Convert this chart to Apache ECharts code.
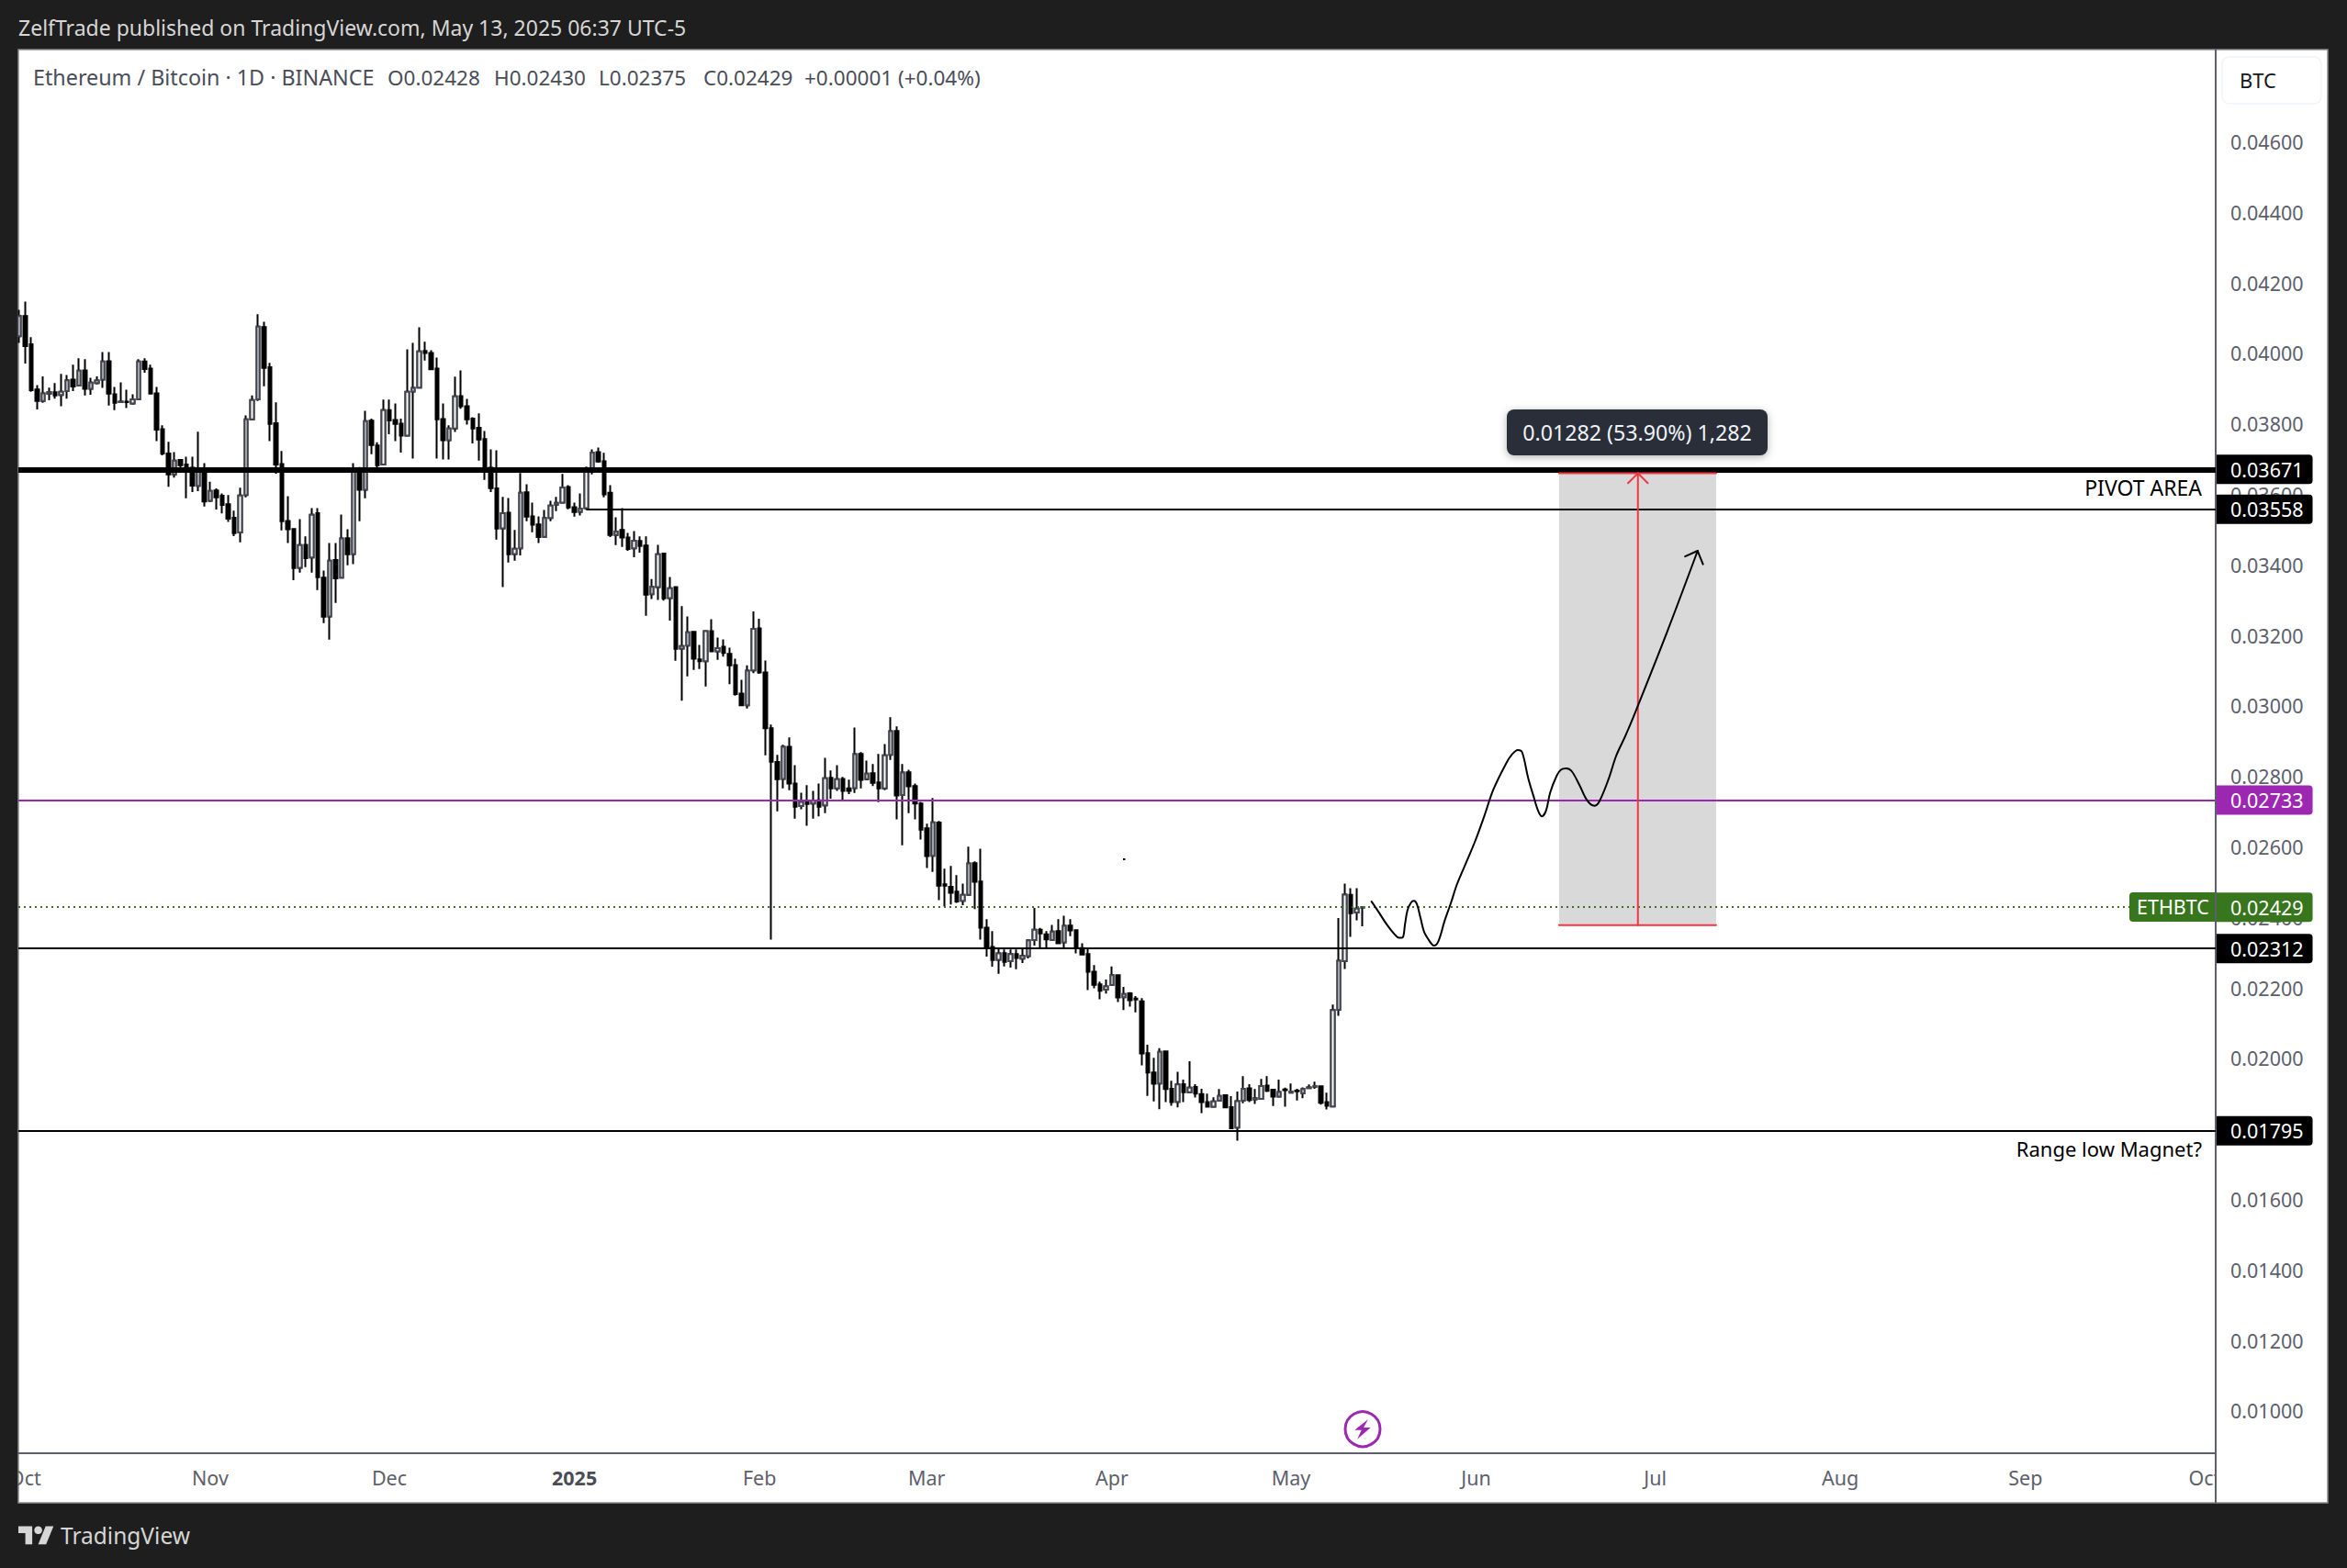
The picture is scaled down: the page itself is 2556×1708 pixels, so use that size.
<!DOCTYPE html>
<html><head><meta charset="utf-8"><style>html,body{margin:0;padding:0;background:#1e1e1e}#c{width:2556px;height:1708px}</style>
<script src="https://cdn.jsdelivr.net/npm/echarts@6/dist/echarts.min.js"></script></head><body><div id="c"></div><script>
const opens=[0.04049,0.04106,0.04026,0.03898,0.03865,0.03886,0.03890,0.03882,0.03893,0.03926,0.03909,0.03952,0.03900,0.03916,0.03926,0.03978,0.03884,0.03862,0.03863,0.03858,0.03870,0.03977,0.03957,0.03887,0.03785,0.03716,0.03657,0.03698,0.03685,0.03676,0.03624,0.03674,0.03582,0.03611,0.03596,0.03572,0.03534,0.03492,0.03598,0.03813,0.03870,0.04075,0.03961,0.03802,0.03686,0.03525,0.03502,0.03392,0.03457,0.03421,0.03547,0.03364,0.03254,0.03414,0.03364,0.03476,0.03431,0.03667,0.03613,0.03809,0.03739,0.03685,0.03839,0.03811,0.03801,0.03767,0.03892,0.03903,0.04007,0.04001,0.03957,0.03814,0.03754,0.03787,0.03879,0.03850,0.03815,0.03789,0.03757,0.03676,0.03617,0.03504,0.03548,0.03431,0.03447,0.03606,0.03538,0.03515,0.03480,0.03533,0.03571,0.03577,0.03621,0.03564,0.03551,0.03561,0.03674,0.03720,0.03694,0.03605,0.03485,0.03499,0.03478,0.03447,0.03468,0.03455,0.03317,0.03337,0.03432,0.03306,0.03337,0.03163,0.03171,0.03210,0.03132,0.03127,0.03212,0.03155,0.03168,0.03148,0.03116,0.03035,0.03002,0.03101,0.03220,0.03095,0.02937,0.02841,0.02793,0.02884,0.02780,0.02716,0.02728,0.02723,0.02732,0.02718,0.02796,0.02766,0.02793,0.02766,0.02767,0.02864,0.02792,0.02809,0.02783,0.02766,0.02861,0.02929,0.02747,0.02812,0.02773,0.02723,0.02653,0.02575,0.02669,0.02494,0.02487,0.02473,0.02447,0.02464,0.02554,0.02502,0.02371,0.02316,0.02280,0.02299,0.02276,0.02296,0.02283,0.02290,0.02336,0.02365,0.02352,0.02336,0.02361,0.02329,0.02377,0.02364,0.02313,0.02296,0.02246,0.02210,0.02195,0.02208,0.02236,0.02174,0.02185,0.02170,0.02162,0.02015,0.01960,0.01929,0.02020,0.01914,0.01877,0.01927,0.01904,0.01919,0.01899,0.01876,0.01863,0.01880,0.01896,0.01862,0.01804,0.01880,0.01915,0.01884,0.01885,0.01923,0.01911,0.01892,0.01912,0.01903,0.01909,0.01901,0.01916,0.01920,0.01921,0.01876,0.01864,0.02138,0.02276,0.02464,0.02414,0.02428];
const highs=[0.04124,0.04147,0.04046,0.03910,0.03935,0.03903,0.03916,0.03942,0.03939,0.03968,0.03986,0.03984,0.03931,0.03935,0.04004,0.04004,0.03905,0.03918,0.03897,0.03884,0.03984,0.03986,0.03968,0.03905,0.03796,0.03749,0.03720,0.03700,0.03707,0.03707,0.03778,0.03689,0.03636,0.03617,0.03603,0.03598,0.03554,0.03619,0.03824,0.03881,0.04111,0.04090,0.03973,0.03861,0.03723,0.03595,0.03504,0.03530,0.03481,0.03561,0.03561,0.03384,0.03462,0.03462,0.03543,0.03501,0.03689,0.03678,0.03837,0.03815,0.03748,0.03869,0.03869,0.03858,0.03815,0.04012,0.04030,0.04074,0.04033,0.04009,0.03988,0.03858,0.03796,0.03934,0.03952,0.03871,0.03819,0.03830,0.03780,0.03728,0.03725,0.03593,0.03590,0.03499,0.03661,0.03629,0.03577,0.03538,0.03556,0.03582,0.03593,0.03658,0.03626,0.03577,0.03603,0.03679,0.03728,0.03733,0.03718,0.03626,0.03535,0.03561,0.03491,0.03496,0.03481,0.03481,0.03360,0.03457,0.03434,0.03366,0.03340,0.03283,0.03254,0.03212,0.03173,0.03214,0.03246,0.03194,0.03189,0.03165,0.03134,0.03074,0.03115,0.03268,0.03247,0.03129,0.02947,0.02861,0.02890,0.02911,0.02832,0.02754,0.02775,0.02759,0.02780,0.02853,0.02817,0.02832,0.02799,0.02791,0.02939,0.02869,0.02845,0.02835,0.02864,0.02892,0.02968,0.02942,0.02835,0.02819,0.02780,0.02728,0.02666,0.02739,0.02674,0.02538,0.02546,0.02520,0.02496,0.02601,0.02559,0.02595,0.02395,0.02361,0.02312,0.02309,0.02309,0.02309,0.02310,0.02338,0.02427,0.02370,0.02361,0.02379,0.02395,0.02405,0.02395,0.02365,0.02327,0.02312,0.02265,0.02218,0.02224,0.02261,0.02237,0.02203,0.02188,0.02177,0.02171,0.02039,0.02002,0.02029,0.02020,0.01937,0.01962,0.01940,0.01992,0.01927,0.01914,0.01900,0.01890,0.01913,0.01898,0.01893,0.01906,0.01950,0.01927,0.01913,0.01942,0.01950,0.01914,0.01940,0.01917,0.01929,0.01914,0.01918,0.01926,0.01934,0.01923,0.01903,0.02153,0.02398,0.02496,0.02483,0.02483,0.02430];
const lows=[0.04030,0.03971,0.03891,0.03841,0.03860,0.03867,0.03872,0.03850,0.03872,0.03893,0.03907,0.03881,0.03883,0.03912,0.03902,0.03852,0.03839,0.03861,0.03845,0.03855,0.03869,0.03945,0.03886,0.03751,0.03711,0.03622,0.03648,0.03676,0.03589,0.03607,0.03609,0.03566,0.03579,0.03557,0.03546,0.03522,0.03482,0.03464,0.03592,0.03811,0.03865,0.03907,0.03751,0.03659,0.03498,0.03462,0.03357,0.03378,0.03394,0.03378,0.03329,0.03235,0.03188,0.03292,0.03362,0.03399,0.03402,0.03524,0.03589,0.03714,0.03664,0.03683,0.03771,0.03751,0.03719,0.03765,0.03702,0.03902,0.03980,0.03954,0.03702,0.03699,0.03699,0.03777,0.03843,0.03798,0.03745,0.03696,0.03641,0.03607,0.03472,0.03337,0.03407,0.03412,0.03427,0.03524,0.03493,0.03462,0.03478,0.03524,0.03553,0.03575,0.03558,0.03537,0.03540,0.03556,0.03657,0.03690,0.03592,0.03479,0.03456,0.03451,0.03440,0.03422,0.03435,0.03256,0.03303,0.03301,0.03299,0.03242,0.03128,0.03015,0.03084,0.03102,0.03105,0.03055,0.03153,0.03131,0.03140,0.03062,0.03029,0.03001,0.02993,0.03093,0.03091,0.02860,0.02337,0.02701,0.02766,0.02761,0.02680,0.02707,0.02660,0.02680,0.02687,0.02696,0.02737,0.02759,0.02734,0.02750,0.02753,0.02766,0.02789,0.02773,0.02727,0.02761,0.02847,0.02678,0.02605,0.02696,0.02678,0.02621,0.02540,0.02529,0.02449,0.02431,0.02437,0.02441,0.02435,0.02462,0.02424,0.02337,0.02289,0.02260,0.02240,0.02261,0.02258,0.02253,0.02271,0.02284,0.02320,0.02313,0.02313,0.02333,0.02324,0.02313,0.02347,0.02298,0.02295,0.02194,0.02199,0.02168,0.02184,0.02206,0.02160,0.02137,0.02147,0.02131,0.01980,0.01894,0.01878,0.01856,0.01876,0.01866,0.01861,0.01876,0.01902,0.01889,0.01845,0.01861,0.01861,0.01878,0.01861,0.01801,0.01767,0.01873,0.01876,0.01871,0.01883,0.01905,0.01865,0.01889,0.01863,0.01902,0.01881,0.01887,0.01913,0.01914,0.01869,0.01855,0.01862,0.02121,0.02254,0.02345,0.02392,0.02375];
const closes=[0.04106,0.04021,0.03896,0.03865,0.03887,0.03890,0.03881,0.03891,0.03924,0.03906,0.03951,0.03900,0.03917,0.03923,0.03977,0.03886,0.03860,0.03863,0.03862,0.03870,0.03977,0.03956,0.03886,0.03784,0.03716,0.03657,0.03696,0.03683,0.03673,0.03625,0.03673,0.03580,0.03610,0.03592,0.03570,0.03531,0.03490,0.03597,0.03813,0.03868,0.04076,0.03959,0.03800,0.03685,0.03524,0.03501,0.03391,0.03456,0.03419,0.03542,0.03365,0.03253,0.03412,0.03362,0.03475,0.03430,0.03667,0.03613,0.03808,0.03740,0.03683,0.03839,0.03810,0.03800,0.03767,0.03891,0.03902,0.04006,0.04001,0.03955,0.03813,0.03754,0.03787,0.03878,0.03850,0.03813,0.03787,0.03756,0.03674,0.03618,0.03503,0.03547,0.03430,0.03446,0.03605,0.03537,0.03514,0.03479,0.03533,0.03568,0.03576,0.03620,0.03563,0.03550,0.03560,0.03673,0.03719,0.03693,0.03600,0.03485,0.03495,0.03478,0.03445,0.03469,0.03454,0.03316,0.03338,0.03430,0.03305,0.03334,0.03162,0.03170,0.03209,0.03134,0.03127,0.03212,0.03155,0.03164,0.03150,0.03115,0.03034,0.03002,0.03100,0.03219,0.03095,0.02937,0.02842,0.02792,0.02884,0.02780,0.02714,0.02728,0.02722,0.02731,0.02714,0.02795,0.02766,0.02792,0.02759,0.02759,0.02863,0.02790,0.02808,0.02782,0.02766,0.02860,0.02928,0.02746,0.02811,0.02772,0.02723,0.02649,0.02574,0.02670,0.02490,0.02490,0.02470,0.02445,0.02464,0.02553,0.02501,0.02371,0.02314,0.02279,0.02298,0.02274,0.02296,0.02285,0.02291,0.02335,0.02365,0.02355,0.02338,0.02360,0.02327,0.02376,0.02363,0.02313,0.02295,0.02246,0.02209,0.02192,0.02204,0.02236,0.02173,0.02183,0.02165,0.02167,0.02014,0.01960,0.01928,0.02019,0.01913,0.01876,0.01926,0.01904,0.01917,0.01900,0.01876,0.01863,0.01878,0.01894,0.01861,0.01802,0.01879,0.01914,0.01882,0.01887,0.01922,0.01908,0.01892,0.01905,0.01910,0.01906,0.01907,0.01913,0.01918,0.01922,0.01874,0.01866,0.02137,0.02277,0.02465,0.02412,0.02425,0.02429];

const priceTicks=[0.010,0.012,0.014,0.016,0.020,0.022,0.024,0.026,0.028,0.030,0.032,0.034,0.036,0.038,0.040,0.042,0.044,0.046];
const monthTickDays=[1,32,62,93,124,152,183,213,244,274,305,336,366];
const monthTickLabels=['Oct','Nov','Dec','2025','Feb','Mar','Apr','May','Jun','Jul','Aug','Sep','Oct'];

const pivotHigh=0.03671, pivotLow=0.03558, purpleLevel=0.02733, lastClose=0.02429, supportLevel=0.02312, rangeLow=0.01795;
const pivotLowStartDay=95;
const rangeTop=0.03660, rangeBottom=0.02378, rangeStartDay=257.9, rangeEndDay=284.2, rangeMidDay=271.1;
const rangeHeadDays=[269.45,271.1,272.75], rangeHeadPrices=[0.03632,0.03660,0.03632];
const pathDays=[226.5,227.7,229.0,230.3,231.1,231.7,232.1,232.5,233.1,233.6,234.1,234.7,235.3,236.2,236.95,237.7,238.7,239.8,240.8,242.3,243.9,245.4,246.9,249.0,250.0,251.0,251.7,252.7,253.6,254.4,255.0,255.7,256.4,257.5,258.2,259.1,260.0,261.3,262.6,263.8,264.6,266.2,267.45,269.0,270.4,275.9,281.1];
const pathPrices=[0.02445,0.02415,0.02381,0.02353,0.02342,0.02343,0.02381,0.02420,0.02442,0.02447,0.02437,0.02398,0.02359,0.02333,0.02320,0.02333,0.02389,0.02442,0.02494,0.02554,0.02619,0.02689,0.02763,0.02836,0.02862,0.02875,0.02869,0.02797,0.02745,0.02702,0.02687,0.02702,0.02754,0.02802,0.02819,0.02823,0.02815,0.02776,0.02732,0.02717,0.02728,0.02793,0.02858,0.02915,0.02971,0.03206,0.03440];
const pathHeadDays=[279.0,281.1,282.0], pathHeadPrices=[0.03424,0.03440,0.03402];

const FONT='"Noto Sans", sans-serif';
const candleRows=opens.map((o,i)=>[i,o,closes[i],lows[i],highs[i]]);
const bullBodies=opens.map((o,i)=>[i,o,closes[i],o,closes[i]]).filter(r=>r[2]>=r[1]);
const zip=(xs,ys)=>xs.map((x,i)=>[x,ys[i]]);
const lineSeries=(data,color,width,extra)=>Object.assign({type:'line',data,symbol:'none',showSymbol:false,silent:true,animation:false,z:6,lineStyle:{color,width,cap:'round',join:'round'}},extra||{});
const tag=(bg,v)=>({show:true,position:'end',distance:1,color:'#fff',fontFamily:FONT,fontSize:21.5,lineHeight:22,padding:[5,10,5,15],backgroundColor:bg,borderRadius:[0,4,4,0],formatter:()=>v.toFixed(5)});
const level=(v,color,width,type,xStart)=>({
  type:'line',data:[],silent:true,animation:false,z:type==='dotted'?1:5,
  markLine:{silent:true,animation:false,symbol:'none',precision:5,
    lineStyle:{color,width,type:type==='dotted'?[2,4]:'solid',cap:'butt'},
    label:tag(color,v),
    data:[xStart==null?{yAxis:v}:[{xAxis:xStart,yAxis:v},{xAxis:367.86,yAxis:v}]]}
});
const txt=(text,x,y,fill,size,align,extra)=>Object.assign({type:'text',z:120,silent:true,style:{text,x,y,fill,font:(size)+'px '+FONT,textAlign:align||'left',textVerticalAlign:'middle'}},extra||{});

const chart=echarts.init(document.getElementById('c'),null,{renderer:'svg',width:2556,height:1708});
chart.setOption({
  animation:false,backgroundColor:'#1e1e1e',
  grid:{left:20,top:54,width:2393,height:1529,containLabel:false},
  xAxis:{type:'value',min:-0.123,max:367.86,splitLine:{show:false},axisTick:{show:false},
    axisLine:{onZero:false,lineStyle:{color:'#5d606b',width:2}},
    axisLabel:{customValues:monthTickDays,color:'#5d606b',fontFamily:FONT,fontSize:21.5,margin:15,showMinLabel:true,showMaxLabel:true,hideOverlap:false,
      formatter:v=>{const s=monthTickLabels[monthTickDays.indexOf(v)];return s==='2025'?'{b|2025}':s;},
      rich:{b:{fontWeight:'bold',color:'#4a4d57',fontFamily:FONT,fontSize:21.5}}}},
  yAxis:{type:'value',position:'right',min:0.0088,max:0.04862,splitLine:{show:false},axisTick:{show:false},
    axisLine:{show:true,onZero:false,lineStyle:{color:'#5d606b',width:2}},
    axisLabel:{customValues:priceTicks,color:'#5d606b',fontFamily:FONT,fontSize:21.5,margin:16,showMinLabel:true,showMaxLabel:true,hideOverlap:false,formatter:v=>v.toFixed(5)}},
  graphic:{elements:[
    {type:'rect',z:-10,silent:true,shape:{x:20,y:54,width:2515,height:1583},style:{fill:'#fff',stroke:'#8a8a8a',lineWidth:1.5}},
    {type:'rect',z:100,silent:true,shape:{x:0,y:1584,width:19,height:56},style:{fill:'#1e1e1e'}},
    {type:'rect',z:100,silent:true,shape:{x:2414,y:1585,width:120,height:51},style:{fill:'#fff'}},
    {type:'rect',z:100,silent:true,shape:{x:2412,y:1583,width:2,height:54},style:{fill:'#5d606b'}},
    txt('ZelfTrade published on TradingView.com, May 13, 2025 06:37 UTC-5',20,30,'#d6d6d6',23),
    txt('Ethereum / Bitcoin · 1D · BINANCE',36,84,'#4a4d57',23.3),
    txt('O0.02428',422,84,'#4a4d57',22.5),
    txt('H0.02430',538,84,'#4a4d57',22.5),
    txt('L0.02375',652,84,'#4a4d57',22.5),
    txt('C0.02429',766,84,'#4a4d57',22.5),
    txt('+0.00001 (+0.04%)',876,84,'#4a4d57',22.5),
    {type:'rect',z:110,silent:true,shape:{x:2420,y:62,width:108,height:51,r:8},style:{fill:'#fff',stroke:'#f0f3fa',lineWidth:1.5}},
    txt('BTC',2439,87,'#131722',22),
    txt('PIVOT AREA',2398,531,'#000',23,'right'),
    txt('Range low Magnet?',2398,1251,'#000',22,'right'),
    {type:'rect',z:110,silent:true,shape:{x:1641,y:446,width:284,height:50,r:8},style:{fill:'#2a2e39',shadowBlur:8,shadowColor:'rgba(0,0,0,0.3)',shadowOffsetY:2}},
    txt('0.01282 (53.90%) 1,282',1783,471,'#f0f3fa',23.2,'center'),
    {type:'rect',z:110,silent:true,shape:{x:2319,y:972,width:93,height:32,r:[4,0,0,4]},style:{fill:'#38761d'}},
    txt('ETHBTC',2327,987,'#fff',21.5),
    {type:'circle',z:110,silent:true,shape:{cx:1484,cy:1556.7,r:19},style:{fill:'#fff',stroke:'#9c27b0',lineWidth:3}},
    {type:'polygon',z:111,silent:true,shape:{points:[[1490,1546],[1475.3,1557.7],[1482.7,1557.7],[1478.3,1567.4],[1492.7,1555],[1485,1555]]},style:{fill:'#9c27b0'}},
    {type:'rect',z:111,silent:true,shape:{x:1223,y:935,width:2.5,height:2},style:{fill:'#000'}},
    {type:'polygon',z:120,silent:true,shape:{points:[[35.1,1682.2],[27.6,1682.2],[27.6,1670.1],[20,1670.1],[20,1662.4],[35.1,1662.4]]},style:{fill:'#d6d6d6'}},
    {type:'polygon',z:120,silent:true,shape:{points:[[50.2,1682.2],[41.6,1682.2],[49.7,1662.4],[58.3,1662.4]]},style:{fill:'#d6d6d6'}},
    {type:'circle',z:120,silent:true,shape:{cx:41.6,cy:1666.8,r:4.3},style:{fill:'#d6d6d6'}},
    txt('TradingView',66,1672,'#d6d6d6',24.5)
  ]},
  series:[
    level(lastClose,'#38761d',2,'dotted'),
    {type:'candlestick',name:'ETHBTC',data:candleRows,barWidth:4,z:2,silent:true,animation:false,
      itemStyle:{color:'#fff',color0:'#000',borderColor:'#000',borderColor0:'#000',borderWidth:2}},
    {type:'candlestick',name:'bull bodies',data:bullBodies,barWidth:4,z:3,silent:true,animation:false,
      itemStyle:{color:'#fff',color0:'#fff',borderColor:'#434651',borderColor0:'#434651',borderWidth:2}},
    level(pivotHigh,'#000',6,'solid'),
    level(pivotLow,'#000',2,'solid',pivotLowStartDay),
    level(purpleLevel,'#9c27b0',2,'solid'),
    level(supportLevel,'#000',2,'solid'),
    level(rangeLow,'#000',2,'solid'),
    {type:'line',data:[],silent:true,animation:false,z:5,
      markArea:{silent:true,animation:false,itemStyle:{color:'rgba(120,120,120,0.28)'},
        data:[[{xAxis:rangeStartDay,yAxis:rangeTop},{xAxis:rangeEndDay,yAxis:rangeBottom}]]}},
    lineSeries(zip([rangeStartDay,rangeEndDay],[rangeTop,rangeTop]),'#f23645',2),
    lineSeries(zip([rangeStartDay,rangeEndDay],[rangeBottom,rangeBottom]),'#f23645',2),
    lineSeries(zip([rangeMidDay,rangeMidDay],[rangeTop,rangeBottom]),'#f23645',2),
    lineSeries(zip(rangeHeadDays,rangeHeadPrices),'#f23645',2),
    lineSeries(zip(pathDays,pathPrices),'#000',2,{smooth:0.35}),
    lineSeries(zip(pathHeadDays,pathHeadPrices),'#000',2)
  ]
});
</script></body></html>
